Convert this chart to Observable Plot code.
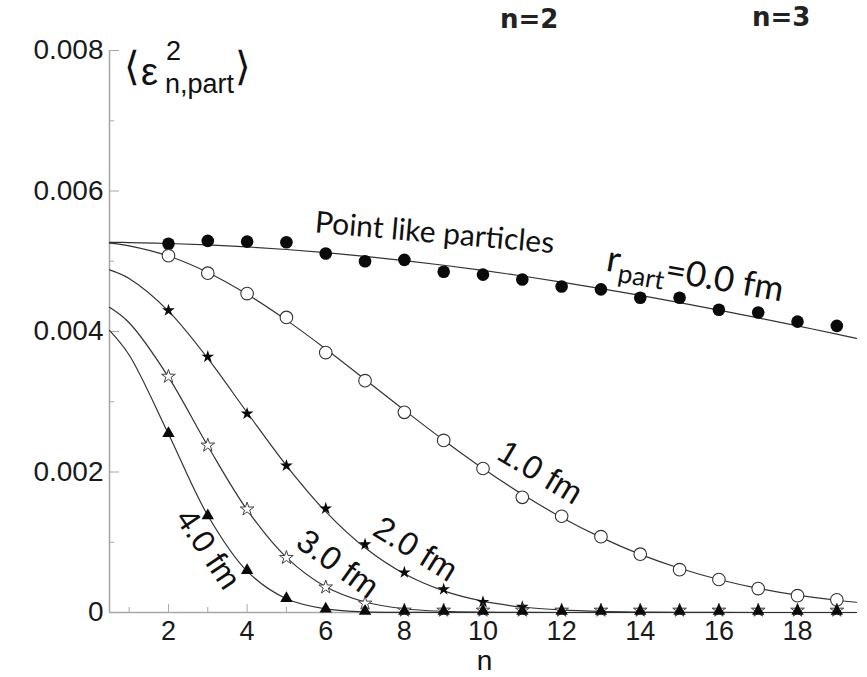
<!DOCTYPE html>
<html>
<head>
<meta charset="utf-8">
<script src="https://cdn.jsdelivr.net/npm/d3@7"></script>
<script src="https://cdn.jsdelivr.net/npm/@observablehq/plot@0.6"></script>
<style>
  body { margin: 0; background: #fff; }
  #chart { width: 867px; height: 677px; overflow: hidden; }
</style>
</head>
<body>
<div id="chart"></div>
<script>
// ---- data ----
const nPts = [2,3,4,5,6,7,8,9,10,11,12,13,14,15,16,17,18,19];
const dots00 = [0.00525,0.00529,0.00528,0.00527,0.00511,0.00500,0.00502,0.00485,0.00481,0.00474,0.00464,0.00460,0.00448,0.00448,0.00431,0.00427,0.00414,0.00408];
const dots10 = [0.00508,0.00483,0.00454,0.00420,0.00370,0.00330,0.00285,0.00245,0.00205,0.00164,0.00137,0.00108,0.00083,0.00061,0.00047,0.00034,0.00024,0.00018];
const dots20 = [0.00430,0.00364,0.00283,0.00209,0.00148,0.00097,0.00057,0.00033,0.00015,0.00008,0.00003,0.00003,0.00003,0.00003,0.00003,0.00003,0.00003,0.00003];
const dots30 = [0.00336,0.00238,0.00147,0.00078,0.00036,0.00013,0.00003,0.00003,0.00003,0.00003,0.00003,0.00003,0.00003,0.00003,0.00003,0.00003,0.00003,0.00003];
const dots40 = [0.00255,0.00138,0.00060,0.00020,0.00005,0.00002,0.00002,0.00002,0.00002,0.00002,0.00002,0.00002,0.00002,0.00002,0.00002,0.00002,0.00002,0.00002];

const nLine  = [0.5,1,2,3,4,5,6,7,8,9,10,11,12,13,14,15,16,17,18,19,19.5];
const line00 = [0.005270,0.005266,0.005253,0.005233,0.005204,0.005167,0.005122,0.005070,0.005010,0.004943,0.004870,0.004790,0.004703,0.004611,0.004514,0.004412,0.004305,0.004194,0.004080,0.003962,0.003903];
const line10 = [0.005258,0.005220,0.005075,0.004841,0.004531,0.004162,0.003752,0.003318,0.002880,0.002453,0.002050,0.001682,0.001353,0.001069,0.000828,0.000630,0.000470,0.000344,0.000247,0.000174,0.000146];
const line20 = [0.004878,0.004755,0.004291,0.003617,0.002847,0.002092,0.001436,0.000921,0.000551,0.000308,0.000161,0.000078,0.000036,0.000015,0.000006,0.000002,0.000001,0,0,0,0];
const line30 = [0.004344,0.004124,0.003351,0.002371,0.001461,0.000784,0.000366,0.000149,0.000053,0.000016,0.000004,0.000001,0,0,0,0,0,0,0,0,0];
const line40 = [0.004016,0.003665,0.002541,0.001381,0.000588,0.000196,0.000051,0.000010,0.000002,0,0,0,0,0,0,0,0,0,0,0,0];

const xTicks = [2,4,6,8,10,12,14,16,18];
const xMinor = [1,3,5,7,9,11,13,15,17,19];
const xTickLabels = ["2","4","6","8","10","12","14","16","18"];
const yTicks = [0,0.002,0.004,0.006,0.008];
const yMinor = [0.001,0.003,0.005,0.007];
const yTickLabels = ["0","0.002","0.004","0.006","0.008"];

// ---- build tables ----
const pts = (vals) => nPts.map((n, i) => ({n, v: vals[i]}));
const ln = (vals) => nLine.map((n, i) => ({n, v: vals[i]}));
const xLab = new Map(xTicks.map((t, i) => [t, xTickLabels[i]]));
const yLab = new Map(yTicks.map((t, i) => [t, yTickLabels[i]]));

const axisGray = "#a8a8a8";
const lineStyle = {x: "n", y: "v", stroke: "#333", strokeWidth: 1.2, curve: "catmull-rom"};

const chart = Plot.plot({
  width: 867,
  height: 677,
  marginLeft: 109,
  marginRight: 11,
  marginTop: 50,
  marginBottom: 65,
  style: {fontFamily: "'Liberation Sans', Arial, sans-serif", fontSize: "27px", color: "#1a1a1a", background: "#fff", overflow: "visible"},
  x: {domain: [0.5, 19.5]},
  y: {domain: [0, 0.008]},
  marks: [
    Plot.ruleX([0.5], {stroke: axisGray, strokeWidth: 1.6}),
    Plot.ruleY([0], {stroke: axisGray, strokeWidth: 1.6}),
    Plot.axisX({ticks: xTicks, tickSize: -8, fill: "none", stroke: axisGray, label: null}),
    Plot.axisX({ticks: xMinor, tickSize: -5, fill: "none", stroke: axisGray, label: null}),
    Plot.axisX({ticks: xTicks, tickSize: 0, tickPadding: 8, tickFormat: d => xLab.get(d), fill: "#1a1a1a", fontSize: 27, label: null}),
    Plot.axisY({ticks: yTicks, tickSize: -10, fill: "none", stroke: axisGray, label: null}),
    Plot.axisY({ticks: yMinor, tickSize: -5, fill: "none", stroke: axisGray, label: null}),
    Plot.axisY({ticks: yTicks, tickSize: 0, tickPadding: 6, tickFormat: d => yLab.get(d), fill: "#1a1a1a", fontSize: 28, label: null}),

    Plot.line(ln(line40), lineStyle),
    Plot.line(ln(line30), lineStyle),
    Plot.line(ln(line20), lineStyle),
    Plot.line(ln(line10), lineStyle),
    Plot.line(ln(line00), lineStyle),

    Plot.dot(pts(dots00), {x: "n", y: "v", symbol: "circle", r: 6.3, fill: "#0a0a0a", stroke: "none"}),
    Plot.dot(pts(dots10), {x: "n", y: "v", symbol: "circle", r: 6.3, fill: "#fff", stroke: "#333", strokeWidth: 1.1}),
    Plot.dot(pts(dots20), {x: "n", y: "v", symbol: "star", r: 4, fill: "#0a0a0a", stroke: "none"}),
    Plot.dot(pts(dots30), {x: "n", y: "v", symbol: "star", r: 4.3, fill: "#fff", stroke: "#444", strokeWidth: 1}),
    Plot.dot(pts(dots40), {x: "n", y: "v", symbol: "triangle", r: 4.6, fill: "#0a0a0a", stroke: "none"}),

    Plot.text([{n: 11.45, v: 0.00199}], {x: "n", y: "v", text: () => "1.0 fm", rotate: 31, fontSize: 33, fill: "#111"}),
    Plot.text([{n: 8.28, v: 0.00090}], {x: "n", y: "v", text: () => "2.0 fm", rotate: 32, fontSize: 33, fill: "#111"}),
    Plot.text([{n: 6.30, v: 0.00069}], {x: "n", y: "v", text: () => "3.0 fm", rotate: 36, fontSize: 33, fill: "#111"}),
    Plot.text([{n: 3.00, v: 0.00090}], {x: "n", y: "v", text: () => "4.0 fm", rotate: 56, fontSize: 32, fill: "#111"}),
    Plot.text([{n: 8.77, v: 0.005400}], {x: "n", y: "v", text: () => "Point like particles", rotate: 5, fontSize: 30, fontFamily: "Lato, 'Open Sans', sans-serif", fill: "#111"})
  ]
});

document.getElementById("chart").appendChild(chart);

// ---- annotations that need sub/superscripts ----
const xs = chart.scale("x"), ys = chart.scale("y");
const svg = d3.select(chart);

// r_part = 0.0 fm
const rp = svg.append("text")
  .attr("transform", `translate(${xs.apply(15.36)},${ys.apply(0.00464)}) rotate(10)`)
  .attr("text-anchor", "middle")
  .attr("fill", "#111")
  .attr("font-family", "Lato, 'Open Sans', sans-serif");
rp.append("tspan").attr("font-size", 37).text("r");
rp.append("tspan").attr("font-size", 26).attr("dy", 9).text("part");
rp.append("tspan").attr("font-size", 35).attr("dy", -9).text("=0.0 fm");

// y label <eps^2_{n,part}>
const yl = svg.append("g").attr("fill", "#111").attr("text-anchor", "start").attr("font-family", "'Liberation Sans', Arial, sans-serif");
yl.append("text").attr("x", 124).attr("y", 80).attr("font-size", 40).attr("font-family", "'DejaVu Sans', sans-serif").attr("font-weight", 200).text("\u27E8");
yl.append("text").attr("x", 141).attr("y", 85).attr("font-size", 38).text("\u03B5");
yl.append("text").attr("x", 166).attr("y", 60).attr("font-size", 27).text("2");
yl.append("text").attr("x", 165).attr("y", 93).attr("font-size", 27).text("n,part");
yl.append("text").attr("x", 235).attr("y", 80).attr("font-size", 40).attr("font-family", "'DejaVu Sans', sans-serif").attr("font-weight", 200).text("\u27E9");

// x axis title
svg.append("text")
  .attr("x", (xs.apply(0.5) + xs.apply(19.5)) / 2 + 2)
  .attr("y", 670)
  .attr("text-anchor", "middle")
  .attr("font-size", 28)
  .attr("fill", "#111")
  .text("n");

// top headers
const hdr = svg.append("g").attr("text-anchor", "start").attr("font-family", "'DejaVu Sans', sans-serif").attr("font-weight", "bold").attr("font-size", 26).attr("fill", "#222");
hdr.append("text").attr("x", 500).attr("y", 28).text("n=2");
hdr.append("text").attr("x", 752).attr("y", 26).text("n=3");
</script>
</body>
</html>
